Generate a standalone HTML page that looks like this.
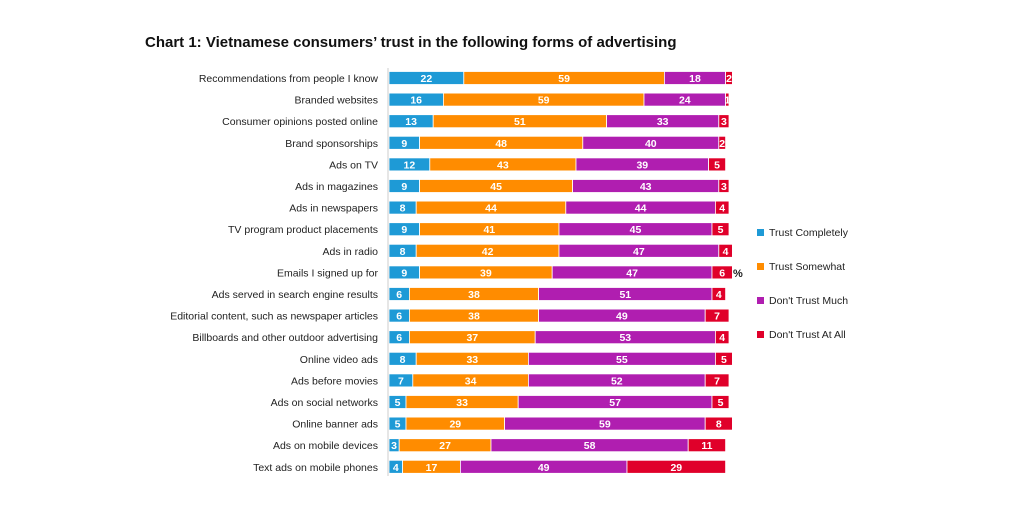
<!DOCTYPE html>
<html><head><meta charset="utf-8"><style>
body{margin:0;background:#fff;}
svg{display:block;font-family:"Liberation Sans",sans-serif;}
</style></head><body>
<svg id="s" width="1024" height="512" viewBox="0 0 1024 512">
<text x="145" y="47" font-size="15" font-weight="bold" fill="#111">Chart 1: Vietnamese consumers’ trust in the following forms of advertising</text>
<line x1="388" y1="68" x2="388" y2="476" stroke="#ccc" stroke-width="1"/>
<g id="g"></g>
<rect x="757" y="229" width="7" height="7" fill="#1e9ad6"/><text x="769" y="236" font-size="10.5" fill="#222">Trust Completely</text>
<rect x="757" y="263" width="7" height="7" fill="#ff8c00"/><text x="769" y="270" font-size="10.5" fill="#222">Trust Somewhat</text>
<rect x="757" y="297" width="7" height="7" fill="#b01eb0"/><text x="769" y="304" font-size="10.5" fill="#222">Don't Trust Much</text>
<rect x="757" y="331" width="7" height="7" fill="#e0002a"/><text x="769" y="338" font-size="10.5" fill="#222">Don't Trust At All</text>
<text x="733" y="277" font-size="11" font-weight="bold" fill="#222">%</text>
</svg>
<script>
var d=[["Recommendations from people I know",22,59,18,2],["Branded websites",16,59,24,1],["Consumer opinions posted online",13,51,33,3],["Brand sponsorships",9,48,40,2],["Ads on TV",12,43,39,5],["Ads in magazines",9,45,43,3],["Ads in newspapers",8,44,44,4],["TV program product placements",9,41,45,5],["Ads in radio",8,42,47,4],["Emails I signed up for",9,39,47,6],["Ads served in search engine results",6,38,51,4],["Editorial content, such as newspaper articles",6,38,49,7],["Billboards and other outdoor advertising",6,37,53,4],["Online video ads",8,33,55,5],["Ads before movies",7,34,52,7],["Ads on social networks",5,33,57,5],["Online banner ads",5,29,59,8],["Ads on mobile devices",3,27,58,11],["Text ads on mobile phones",4,17,49,29]];
var c=["#1e9ad6","#ff8c00","#b01eb0","#e0002a"],h="";
d.forEach(function(r,i){var yc=78+i*21.6,x=389;
h+='<text x="378" y="'+(yc+4)+'" font-size="10.5" text-anchor="end" fill="#222">'+r[0]+'</text>';
for(var k=1;k<5;k++){var w=r[k]*3.4;
h+='<rect x="'+x+'" y="'+(yc-6.5)+'" width="'+w+'" height="13" fill="'+c[k-1]+'" stroke="#fff" stroke-width="0.8"/>';
h+='<text x="'+(x+w/2)+'" y="'+(yc+4)+'" font-size="10.5" font-weight="bold" text-anchor="middle" fill="#fff">'+r[k]+'</text>';
x+=w;}});
document.getElementById("g").innerHTML=h;
</script>
</body></html>
